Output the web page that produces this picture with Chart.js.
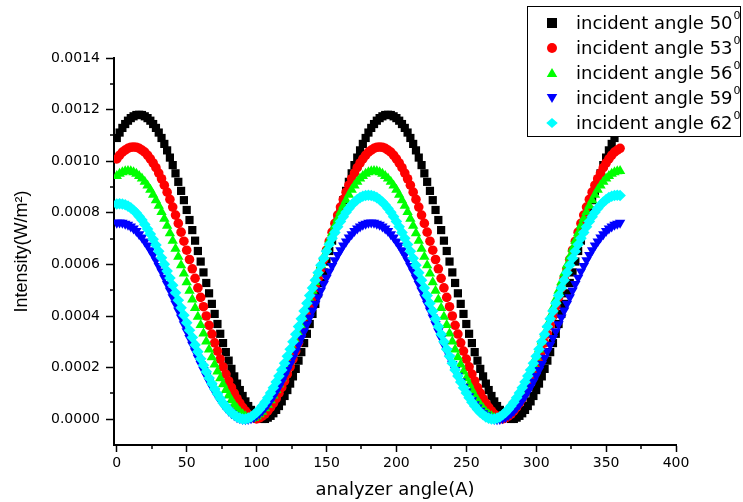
<!DOCTYPE html>
<html>
<head>
<meta charset="utf-8">
<script src="https://cdn.jsdelivr.net/npm/chart.js@4.4.1/dist/chart.umd.min.js"></script>
<style>
  html, body { margin: 0; padding: 0; background: #fff; }
  canvas { display: block; }
</style>
</head>
<body>
<canvas id="chart" width="743" height="502"></canvas>
<script>
'use strict';

// analyzer angle in degrees
let angles = [0,2,4,6,8,10,12,14,16,18,20,22,24,26,28,30,32,34,36,38,40,42,44,46,48,50,52,54,56,58,60,62,64,66,68,70,72,74,76,78,80,82,84,86,88,90,92,94,96,98,100,102,104,106,108,110,112,114,116,118,120,122,124,126,128,130,132,134,136,138,140,142,144,146,148,150,152,154,156,158,160,162,164,166,168,170,172,174,176,178,180,182,184,186,188,190,192,194,196,198,200,202,204,206,208,210,212,214,216,218,220,222,224,226,228,230,232,234,236,238,240,242,244,246,248,250,252,254,256,258,260,262,264,266,268,270,272,274,276,278,280,282,284,286,288,290,292,294,296,298,300,302,304,306,308,310,312,314,316,318,320,322,324,326,328,330,332,334,336,338,340,342,344,346,348,350,352,354,356,358,360];

// intensity, in microwatt per m2
let angle50 = [1090,1111,1129,1144,1157,1167,1174,1179,1180,1179,1174,1167,1157,1144,1129,1111,1090,1067,1042,1014,985,953,920,885,849,811,772,733,692,652,611,569,528,488,447,408,369,331,295,260,227,195,166,138,113,90,69,51,36,23,13,6,1,
  1,6,13,23,36,51,69,90,113,138,166,195,227,260,295,331,369,408,447,488,528,569,611,652,692,733,772,811,849,885,920,953,985,1014,1042,1067,1090,1111,1129,1144,1157,1167,1174,1179,1180,
  1179,1174,1167,1157,1144,1129,1111,1090,1067,1042,1014,985,953,920,885,849,811,772,733,692,652,611,569,528,488,447,408,369,331,295,260,227,195,166,138,113,90,69,51,36,23,13,6,1,
  1,6,13,23,36,51,69,90,113,138,166,195,227,260,295,331,369,408,447,488,528,569,611,652,692,733,772,811,849,885,920,953,985,1014,1042,1067,1090,1111,1129];

let angle53 = [1009,1023,1035,1043,1050,1054,1055,1054,1050,1043,1035,1023,1009,993,975,954,932,907,880,852,822,791,759,725,690,655,619,583,546,509,472,436,400,364,330,296,264,233,203,175,148,123,101,80,62,46,32,20,12,5,1,
  5,12,20,32,46,62,80,101,123,148,175,203,233,264,296,330,364,400,436,472,509,546,583,619,655,690,725,759,791,822,852,880,907,932,954,975,993,1009,1023,1035,1043,1050,1054,1055,
  1054,1050,1043,1035,1023,1009,993,975,954,932,907,880,852,822,791,759,725,690,655,619,583,546,509,472,436,400,364,330,296,264,233,203,175,148,123,101,80,62,46,32,20,12,5,1,
  5,12,20,32,46,62,80,101,123,148,175,203,233,264,296,330,364,400,436,472,509,546,583,619,655,690,725,759,791,822,852,880,907,932,954,975,993,1009,1023,1035,1043,1050];

let angle56 = [943,951,957,961,962,961,957,951,943,933,920,906,889,870,849,827,803,777,750,721,692,661,630,597,565,531,498,464,431,397,365,332,301,270,240,212,185,159,135,113,92,73,56,42,29,19,11,5,1,
  5,11,19,29,42,56,73,92,113,135,159,185,212,240,270,301,332,365,397,431,464,498,531,565,597,630,661,692,721,750,777,803,827,849,870,889,906,920,933,943,951,957,961,962,
  961,957,951,943,933,920,906,889,870,849,827,803,777,750,721,692,661,630,597,565,531,498,464,431,397,365,332,301,270,240,212,185,159,135,113,92,73,56,42,29,19,11,5,
  1,5,11,19,29,42,56,73,92,113,135,159,185,212,240,270,301,332,365,397,431,464,498,531,565,597,630,661,692,721,750,777,803,827,849,870,889,906,920,933,943,951,957,961,962];

let angle59 = [761,762,761,758,754,747,739,729,717,704,689,673,655,636,616,594,572,548,524,499,473,447,421,394,368,341,315,289,263,238,214,191,168,146,126,107,89,73,58,45,33,23,15,8,4,1,
  0,1,4,8,15,23,33,45,58,73,89,107,126,146,168,191,214,238,263,289,315,341,368,394,421,447,473,499,524,548,572,594,616,636,655,673,689,704,717,729,739,747,754,758,761,762,
  761,758,754,747,739,729,717,704,689,673,655,636,616,594,572,548,524,499,473,447,421,394,368,341,315,289,263,238,214,191,168,146,126,107,89,73,58,45,33,23,15,8,4,1,0,
  1,4,8,15,23,33,45,58,73,89,107,126,146,168,191,214,238,263,289,315,341,368,394,421,447,473,499,524,548,572,594,616,636,655,673,689,704,717,729,739,747,754,758,761];

let angle62 = [834,835,834,831,826,819,810,799,786,772,755,737,718,697,675,651,626,601,574,547,519,490,461,432,403,374,345,317,288,261,234,209,184,160,138,117,98,80,63,49,36,25,16,9,4,1,
  1,4,9,17,26,38,51,66,83,102,122,144,167,191,217,244,271,300,329,359,389,419,449,479,509,539,568,597,624,651,677,701,724,746,766,785,802,817,830,842,851,859,864,867,868,
  867,864,859,851,842,830,817,802,785,766,746,724,701,677,651,624,597,568,539,509,479,449,419,389,359,329,300,271,244,217,191,167,144,122,102,83,66,51,38,26,17,9,4,1,
  1,4,9,17,26,38,51,66,83,102,122,144,167,191,217,244,271,300,329,359,389,419,449,479,509,539,568,597,624,651,677,701,724,746,766,785,802,817,830,842,851,859,864,867,868,867];

let seriesNames = ['incident angle 50', 'incident angle 53', 'incident angle 56', 'incident angle 59', 'incident angle 62'];

let xTicks = [0, 50, 100, 150, 200, 250, 300, 350, 400];
let xMinorTicks = [25, 75, 125, 175, 225, 275, 325, 375];
let yTicks = [0, 0.0002, 0.0004, 0.0006, 0.0008, 0.0010, 0.0012, 0.0014];
let yMinorTicks = [0.0001, 0.0003, 0.0005, 0.0007, 0.0009, 0.0011, 0.0013];


function toPoints(values) {
  let pts = [];
  for (let i = 0; i < angles.length; i++) {
    pts.push({x: angles[i], y: values[i] / 1e6});
  }
  return pts;
}

let styles = [
  {color: '#000000', shape: 'rect', radius: 5.8, rot: 0},
  {color: '#ff0000', shape: 'circle', radius: 4.8, rot: 0},
  {color: '#00ff00', shape: 'triangle', radius: 6, rot: 0},
  {color: '#0000ff', shape: 'triangle', radius: 6, rot: 180},
  {color: '#00ffff', shape: 'rectRot', radius: 5.8, rot: 0}
];

let allSeries = [angle50, angle53, angle56, angle59, angle62];
let datasets = allSeries.map((vals, i) => ({
  label: seriesNames[i],
  data: toPoints(vals),
  pointStyle: styles[i].shape,
  pointRadius: styles[i].radius,
  pointHoverRadius: styles[i].radius,
  pointRotation: styles[i].rot,
  pointBackgroundColor: styles[i].color,
  pointBorderColor: styles[i].color,
  pointBorderWidth: 0,
  showLine: false,
  order: 5 - i
}));


// small minor ticks, Origin style
const minorTicks = {
  id: 'minorTicks',
  afterDraw(chart) {
    let ctx = chart.ctx;
    let xs = chart.scales.x, ys = chart.scales.y;
    ctx.save();
    ctx.strokeStyle = '#000';
    ctx.lineWidth = 1.5;
    ctx.beginPath();
    xMinorTicks.forEach(v => {
      let px = Math.round(xs.getPixelForValue(v));
      ctx.moveTo(px, xs.top);
      ctx.lineTo(px, xs.top + 4);
    });
    yMinorTicks.forEach(v => {
      let py = Math.round(ys.getPixelForValue(v));
      ctx.moveTo(ys.right, py);
      ctx.lineTo(ys.right - 4, py);
    });
    ctx.stroke();
    ctx.restore();
  }
};

function drawMarker(ctx, shape, rot, x, y, r) {
  ctx.beginPath();
  if (shape === 'rect') {
    ctx.rect(x - r, y - r, 2 * r, 2 * r);
  } else if (shape === 'circle') {
    ctx.arc(x, y, r, 0, Math.PI * 2);
  } else if (shape === 'triangle') {
    let s = rot ? -1 : 1;
    ctx.moveTo(x, y - s * r);
    ctx.lineTo(x + r * 1.05, y + s * r * 0.8);
    ctx.lineTo(x - r * 1.05, y + s * r * 0.8);
    ctx.closePath();
  } else {
    ctx.moveTo(x, y - r);
    ctx.lineTo(x + r * 1.15, y);
    ctx.lineTo(x, y + r);
    ctx.lineTo(x - r * 1.15, y);
    ctx.closePath();
  }
  ctx.fill();
}

const legendBox = {
  id: 'legendBox',
  afterDraw(chart) {
    let ctx = chart.ctx;
    ctx.save();
    ctx.fillStyle = '#fff';
    ctx.fillRect(527, 6, 214, 131);
    ctx.strokeStyle = '#000';
    ctx.lineWidth = 1;
    ctx.strokeRect(527.5, 6.5, 213, 130);
    for (let i = 0; i < seriesNames.length; i++) {
      let y = 23 + i * 25;
      ctx.fillStyle = styles[i].color;
      drawMarker(ctx, styles[i].shape, styles[i].rot, 552, y, 5);
      ctx.fillStyle = '#000';
      ctx.textBaseline = 'middle';
      ctx.font = '18px "DejaVu Sans"';
      ctx.fillText(seriesNames[i], 576, y + 1);
      let w = ctx.measureText(seriesNames[i]).width;
      ctx.font = '11px "DejaVu Sans"';
      ctx.fillText('0', 576 + w + 1, y - 7);
    }
    ctx.restore();
  }
};


new Chart(document.getElementById('chart'), {
  type: 'scatter',
  data: { datasets: datasets },
  plugins: [minorTicks, legendBox],
  options: {
    responsive: false,
    animation: false,
    devicePixelRatio: 1,
    layout: { padding: { top: 58, right: 67, bottom: 0, left: 0 } },
    plugins: {
      legend: { display: false },
      tooltip: { enabled: false }
    },
    scales: {
      x: {
        type: 'linear',
        min: -2,
        max: 400,
        afterBuildTicks: s => { s.ticks = xTicks.map(v => ({value: v})); },
        afterFit: s => { s.height = 57; },
        border: { display: true, color: '#000', width: 2 },
        grid: { drawOnChartArea: false, drawTicks: true, tickLength: 7, tickColor: '#000', tickWidth: 1.5 },
        ticks: {
          color: '#000',
          padding: 3,
          font: { family: 'DejaVu Sans', size: 14 },
          callback: v => String(v)
        },
        title: {
          display: true,
          text: 'analyzer angle(A)',
          color: '#000',
          font: { family: 'DejaVu Sans', size: 18 },
          padding: { top: 0, bottom: 1 }
        }
      },
      y: {
        type: 'linear',
        min: -0.0001,
        max: 0.0014,
        afterBuildTicks: s => { s.ticks = yTicks.map(v => ({value: v})); },
        afterFit: s => { s.width = 114; },
        border: { display: true, color: '#000', width: 2 },
        grid: { drawOnChartArea: false, drawTicks: true, tickLength: 8, tickColor: '#000', tickWidth: 1.5 },
        ticks: {
          color: '#000',
          padding: 6,
          font: { family: 'DejaVu Sans', size: 14 },
          callback: v => v.toFixed(4)
        },
        title: {
          display: true,
          text: 'Intensity(W/m²)',
          color: '#000',
          font: { family: 'Liberation Sans', size: 18 },
          padding: { top: 11, bottom: 0 }
        }
      }
    }
  }
});
</script>
</body>
</html>
